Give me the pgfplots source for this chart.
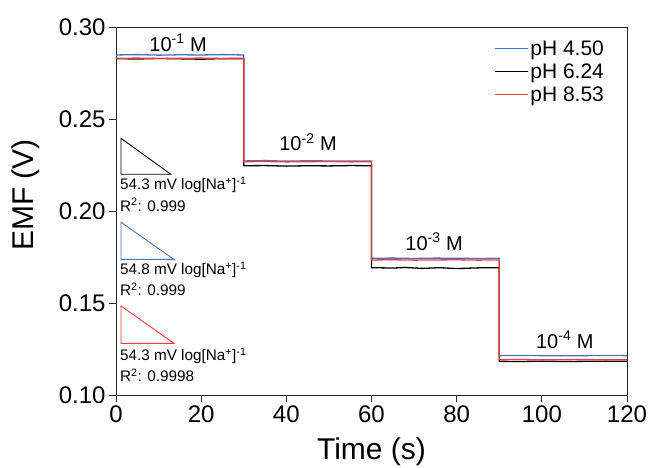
\documentclass[border=0pt]{standalone}
\usepackage{pgfplots}
\pgfplotsset{compat=1.18}
\usepackage{fontspec}
\setmainfont{Liberation Sans}

\definecolor{phblue}{RGB}{68,114,196}
\definecolor{phred}{RGB}{240,60,60}

\newcommand{\fs}[1]{\fontsize{#1}{#1}\selectfont}

\begin{document}
\begin{tikzpicture}
\path[use as bounding box] (-116pt,-72pt) rectangle (535pt,395pt);
\begin{axis}[
  scale only axis,
  width=511pt, height=368pt,
  xmin=0, xmax=120, ymin=0.10, ymax=0.30,
  xtick={0,20,...,120},
  ytick={0.10,0.15,...,0.30},
  tick pos=left,
  tick align=outside,
  major tick length=7pt,
  axis line style={line width=0.8pt, black!85},
  every tick/.style={line width=0.8pt, black!85},
  /pgf/number format/assume math mode=true,
  yticklabel style={/pgf/number format/fixed, /pgf/number format/precision=2, /pgf/number format/fixed zerofill},
  ticklabel style={font=\fs{24}},
  xlabel={Time (s)}, ylabel={EMF (V)},
  label style={font=\fs{30}},
  xlabel style={yshift=-8pt},
  ylabel style={yshift=12pt, xshift=16pt},
  legend style={draw=none, fill=none, at={(0.965,0.975)}, anchor=north east,
    font=\fs{21}, row sep=3pt},
  legend cell align=left,
  legend image code/.code={\draw[#1, line width=0.8pt] (0pt,0pt) -- (33pt,0pt);},
]
% EMF steps at 10^-1, 10^-2, 10^-3, 10^-4 M Na+
\addplot[phblue, line width=1.3pt] coordinates {
  (0,0.2848) (5,0.2850) (10,0.2847) (15,0.2849) (20,0.2848) (25,0.2850) (30,0.2848)
  (30,0.2272) (35,0.2274) (40,0.2271) (45,0.2273) (50,0.2272) (55,0.2271) (60,0.2272)
  (60,0.1743) (65,0.1744) (70,0.1742) (75,0.1744) (80,0.1743) (85,0.1742) (90,0.1743)
  (90,0.1214) (95,0.1215) (100,0.1214) (105,0.1213) (110,0.1214) (115,0.1215) (120,0.1214)};
\addlegendentry{pH 4.50}
\addplot[black, line width=1.3pt] coordinates {
  (0,0.2828) (5,0.2826) (10,0.2829) (15,0.2827) (20,0.2825) (25,0.2828) (30,0.2828)
  (30,0.2246) (35,0.2247) (40,0.2244) (45,0.2246) (50,0.2245) (55,0.2247) (60,0.2246)
  (60,0.1692) (65,0.1690) (68,0.1693) (72,0.1688) (76,0.1692) (80,0.1687) (85,0.1691) (90,0.1692)
  (90,0.1183) (95,0.1182) (100,0.1184) (105,0.1182) (110,0.1183) (115,0.1184) (120,0.1183)};
\addlegendentry{pH 6.24}
\addplot[phred, line width=1.3pt] coordinates {
  (0,0.2830) (5,0.2831) (10,0.2829) (15,0.2830) (20,0.2831) (25,0.2829) (30,0.2830)
  (30,0.2268) (35,0.2269) (40,0.2267) (45,0.2268) (50,0.2269) (55,0.2267) (60,0.2268)
  (60,0.1734) (65,0.1735) (70,0.1733) (75,0.1734) (80,0.1735) (85,0.1733) (90,0.1734)
  (90,0.1192) (95,0.1193) (100,0.1191) (105,0.1192) (110,0.1193) (115,0.1191) (120,0.1192)};
\addlegendentry{pH 8.53}

% slope triangles
\addplot[black, line width=0.9pt, forget plot] coordinates {(1.17,0.2395) (1.17,0.2200) (12.85,0.2200)} -- cycle;
\addplot[phblue, line width=0.9pt, forget plot] coordinates {(1.17,0.1939) (1.17,0.1737) (13.6,0.1737)} -- cycle;
\addplot[phred, line width=0.9pt, forget plot] coordinates {(1.17,0.1484) (1.17,0.1281) (13.6,0.1281)} -- cycle;

% slope and fit annotations
\begin{scope}[every node/.style={anchor=west, font=\fs{15.3}, inner sep=0pt}]
\node at (axis cs:0.9,0.2141) {54.3 mV log[Na\textsuperscript{+}]\textsuperscript{-1}};
\node at (axis cs:0.9,0.2033) {R\textsuperscript{2}: 0.999};
\node at (axis cs:0.9,0.1679) {54.8 mV log[Na\textsuperscript{+}]\textsuperscript{-1}};
\node at (axis cs:0.9,0.1576) {R\textsuperscript{2}: 0.999};
\node at (axis cs:0.9,0.1212) {54.3 mV log[Na\textsuperscript{+}]\textsuperscript{-1}};
\node at (axis cs:0.9,0.1105) {R\textsuperscript{2}: 0.9998};
\end{scope}

% concentration labels
\begin{scope}[every node/.style={font=\fs{20}, inner sep=0pt}]
\node at (axis cs:14.6,0.2913) {10\textsuperscript{-1} M};
\node at (axis cs:45.1,0.2375) {10\textsuperscript{-2} M};
\node at (axis cs:74.7,0.1832) {10\textsuperscript{-3} M};
\node at (axis cs:105.4,0.1299) {10\textsuperscript{-4} M};
\end{scope}
\end{axis}
\end{tikzpicture}
\end{document}
